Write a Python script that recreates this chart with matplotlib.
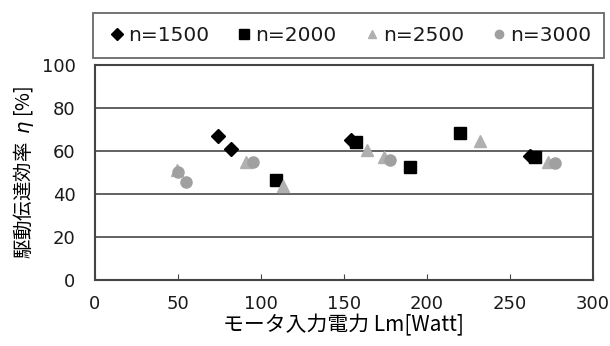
import matplotlib
matplotlib.use('Agg')
import matplotlib.pyplot as plt

plt.rcParams['font.family'] = ['DejaVu Sans', 'Noto Sans CJK JP']

# n=1500
x1500 = [74, 82, 154, 262]
y1500 = [67, 61, 65, 57.5]
# n=2000
x2000 = [109, 157, 190, 220, 265]
y2000 = [46.5, 64, 52.6, 68.4, 57.3]
# n=2500
x2500 = [49.5, 91, 113, 164, 174, 232, 273]
y2500 = [51, 55, 43.5, 60.5, 57, 64.6, 55]
# n=3000
x3000 = [50, 55, 95, 178, 277]
y3000 = [50, 45.6, 55, 56, 54.4]

xticks = [0, 50, 100, 150, 200, 250, 300]
yticks = [0, 20, 40, 60, 80, 100]

fig = plt.figure(figsize=(6.1, 3.46), dpi=100)
ax = fig.add_axes([0.1557, 0.1908, 0.8163, 0.6214])

ax.plot(x1500, y1500, 'D', color='black', markersize=7.5, linestyle='none', label='n=1500')
ax.plot(x2000, y2000, 's', color='black', markersize=9, linestyle='none', label='n=2000')
ax.plot(x2500, y2500, '^', color='#b0b0b0', markersize=8.5, linestyle='none', label='n=2500')
ax.plot(x3000, y3000, 'o', color='#a0a0a0', markersize=8, linestyle='none', label='n=3000')

ax.set_xlim(0, 300)
ax.set_ylim(0, 100)
ax.set_xticks(xticks)
ax.set_yticks(yticks)
for yv in yticks[1:-1]:
    ax.axhline(yv, color='#555555', linewidth=1.3, zorder=0)

for s in ax.spines.values():
    s.set_color('#444444')
    s.set_linewidth(1.5)

ax.tick_params(axis='x', direction='in', length=4, color='#444444', labelsize=13, pad=11)
ax.tick_params(axis='y', length=0, labelsize=13, pad=14)
for lab in ax.get_xticklabels() + ax.get_yticklabels():
    lab.set_color('#1a1a1a')

ax.set_xlabel('モータ入力電力 Lm[Watt]', fontsize=15, labelpad=1,
              family=['Noto Sans CJK JP', 'DejaVu Sans'])
ax.set_ylabel('駆動伝達効率  $\\eta$ [%]', fontsize=14, labelpad=4,
              family=['Noto Sans CJK JP', 'DejaVu Sans'])

leg = fig.legend(loc='center', bbox_to_anchor=(0.572, 0.897), ncol=4,
                 fontsize=14.5, frameon=True, fancybox=False,
                 handletextpad=0.05, columnspacing=1.25, borderpad=0.65,
                 handlelength=1.0, markerscale=0.75)
for t in leg.get_texts():
    t.set_color('#1a1a1a')
leg.get_frame().set_edgecolor('#444444')
leg.get_frame().set_linewidth(1.3)

fig.savefig('out.png', dpi=100)
